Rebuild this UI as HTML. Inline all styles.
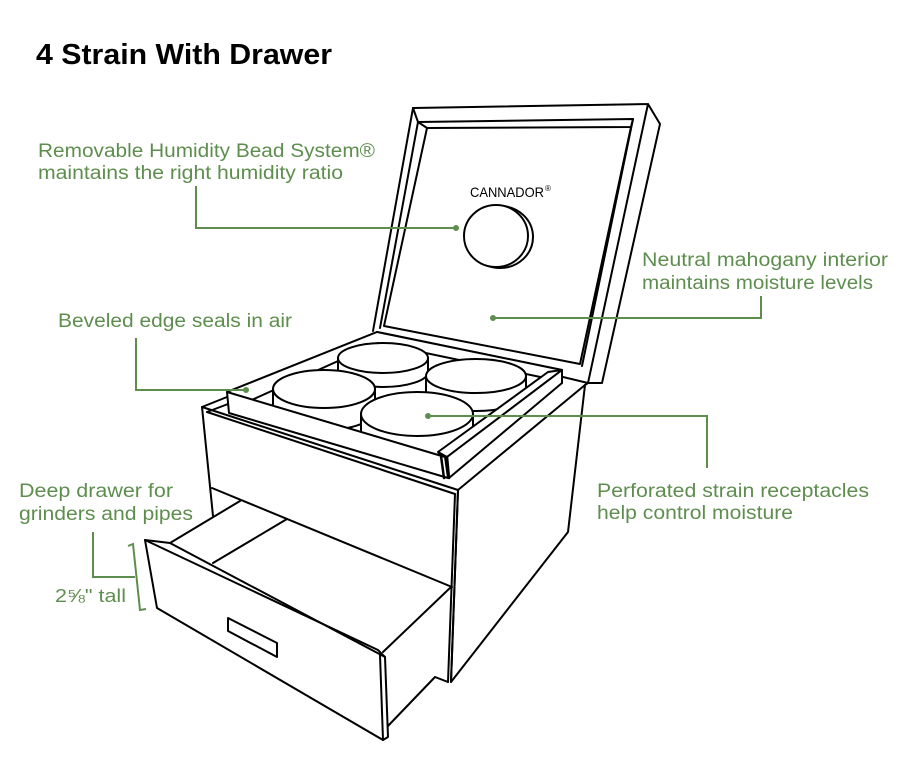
<!DOCTYPE html>
<html><head><meta charset="utf-8">
<style>
html,body{margin:0;padding:0;background:#fff;}
svg{display:block;}
</style></head><body>
<svg width="900" height="771" viewBox="0 0 900 771" xmlns="http://www.w3.org/2000/svg">
<rect width="900" height="771" fill="#fff"/>

<!-- Title -->
<text x="36" y="64" font-family="Liberation Sans, Arial, sans-serif" font-weight="bold" font-size="29" fill="#000" textLength="296" lengthAdjust="spacingAndGlyphs">4 Strain With Drawer</text>

<g fill="none" stroke="#000" stroke-width="2" stroke-linejoin="round" stroke-linecap="round">
  <!-- LID -->
  <path d="M413,108 L648,104 L660,124 L602,383 L588,383 L648,104"/>
  <path d="M413,108 L373,331"/>
  <path d="M413,108 L418,122 L633,119 L631,127 L427,128 L418,122 L380,328"/>
  <path d="M633,119 L582,366"/>
  <path d="M427,128 L384,326 L580,364 L631,127"/>
  <path d="M563,377 L588,383"/>

  <!-- Bead disc -->
  <ellipse cx="500" cy="237" rx="33" ry="31" fill="#fff"/>
  <ellipse cx="496" cy="236" rx="32" ry="31" fill="#fff"/>

  <!-- BODY right face -->
  <path d="M458,490 L585,385 L568,532 L451,682 Z" fill="#fff"/>
  <path d="M585,385 L588,383"/>
  <!-- body front face -->
  <path d="M202,407 L458,490 L455,494 L452,587 L212,488 Z" fill="#fff" stroke="none"/>
  <path d="M202,407 L458,490"/>
  <path d="M207,412 L455,494"/>
  <path d="M202,407 L227,397"/>
  <path d="M207,412 L228,404"/>
  <path d="M202,407 L213,516"/>
  <path d="M455,494 L448,682"/>
  <path d="M458,490 L451,682"/>
  <path d="M212,488 L452,587"/>

  <!-- TRAY back / inner -->
  <path d="M377,332 L562,370 L562,383"/>
  <path d="M227,392 L377,332 L378,343"/>
  <path d="M378,343 L550,379"/>
  <path d="M378,343 L245,403"/>
  <path d="M227,392 L377,332 L562,370 L448,457 Z" fill="#fff" stroke="none"/>
  <path d="M377,332 L562,370"/>
  <path d="M378,343 L550,379"/>
  <path d="M378,343 L245,403"/>
  <path d="M227,392 L377,332"/>

  <!-- Cylinders -->
  <!-- back -->
  <path d="M338,358 L338,372 A45,15 0 0 0 428,372 L428,358 Z" fill="#fff"/>
  <ellipse cx="383" cy="358" rx="45" ry="15" fill="#fff"/>
  <!-- left -->
  <path d="M273,389 L273,411 A51,19 0 0 0 375,411 L375,389 Z" fill="#fff"/>
  <ellipse cx="324" cy="389" rx="51" ry="19" fill="#fff"/>
  <!-- right -->
  <path d="M426,376 L426,394 A50,17 0 0 0 526,394 L526,376 Z" fill="#fff"/>
  <ellipse cx="476" cy="376" rx="50" ry="17" fill="#fff"/>
  <!-- front -->
  <path d="M361,414 L361,434 A56,22 0 0 0 473,434 L473,414 Z" fill="#fff"/>
  <ellipse cx="417" cy="414" rx="56" ry="22" fill="#fff"/>

  <!-- TRAY walls -->
  <path d="M438,452 L548,372 L562,370 L447,457 Z" fill="#fff"/>
  <path d="M447,457 L562,370 L562,383 L449,478 Z" fill="#fff"/>
  <path d="M227,392 L445,457 L448,478 L229,413 Z" fill="#fff"/>
  <path d="M441,456 L444,478" stroke-width="2.5"/>
  <path d="M447,457 L449,478" stroke-width="2.5"/>

  <!-- DRAWER -->
  <path d="M170,543 L240,501"/>
  <path d="M213,563 L287,519"/>
  <path d="M383,652 L450,588"/>
  <path d="M387,727 L435,677 L448,682"/>
  <path d="M145,540 L378,650 L385,657 L388,737 L383,740 L157,608 Z" fill="#fff"/>
  <path d="M145,540 L170,543 L385,657"/>
  <path d="M380,655 L383,740"/>
  <path d="M228,618 L277,643 L277,657 L228,631 Z" fill="#fff"/>
</g>

<!-- CANNADOR -->
<text x="470" y="197" font-family="Liberation Sans, Arial, sans-serif" font-size="14" fill="#000" textLength="74" lengthAdjust="spacingAndGlyphs">CANNADOR</text>
<text x="545" y="191" font-family="Liberation Sans, Arial, sans-serif" font-size="8" fill="#000">®</text>

<!-- Green annotations -->
<g fill="none" stroke="#5e8e4e" stroke-width="2">
  <path d="M196,186 L196,228 L456,228"/>
  <path d="M761,296 L761,318 L493,318"/>
  <path d="M136,338 L136,390 L246,390"/>
  <path d="M707,468 L707,416 L428,416"/>
  <path d="M93,532 L93,577 L135,577"/>
  <path d="M128,546 L133,544 L140,610 L146,609"/>
</g>
<g fill="#5e8e4e">
  <circle cx="456" cy="228" r="3"/>
  <circle cx="493" cy="318" r="3"/>
  <circle cx="246" cy="390" r="3"/>
  <circle cx="428" cy="416" r="3"/>
</g>

<g font-family="Liberation Sans, Arial, sans-serif" font-size="19" fill="#5e8e4e">
  <text x="38" y="157" textLength="337" lengthAdjust="spacingAndGlyphs">Removable Humidity Bead System®</text>
  <text x="38" y="179" textLength="305" lengthAdjust="spacingAndGlyphs">maintains the right humidity ratio</text>
  <text x="642" y="266" textLength="246" lengthAdjust="spacingAndGlyphs">Neutral mahogany interior</text>
  <text x="642" y="289" textLength="231" lengthAdjust="spacingAndGlyphs">maintains moisture levels</text>
  <text x="58" y="327" textLength="234" lengthAdjust="spacingAndGlyphs">Beveled edge seals in air</text>
  <text x="19" y="497" textLength="154" lengthAdjust="spacingAndGlyphs">Deep drawer for</text>
  <text x="19" y="520" textLength="174" lengthAdjust="spacingAndGlyphs">grinders and pipes</text>
  <text x="597" y="497" textLength="272" lengthAdjust="spacingAndGlyphs">Perforated strain receptacles</text>
  <text x="597" y="519" textLength="196" lengthAdjust="spacingAndGlyphs">help control moisture</text>
  <text x="55" y="602" font-size="18" textLength="71" lengthAdjust="spacingAndGlyphs">2⅝" tall</text>
</g>
</svg>
</body></html>
